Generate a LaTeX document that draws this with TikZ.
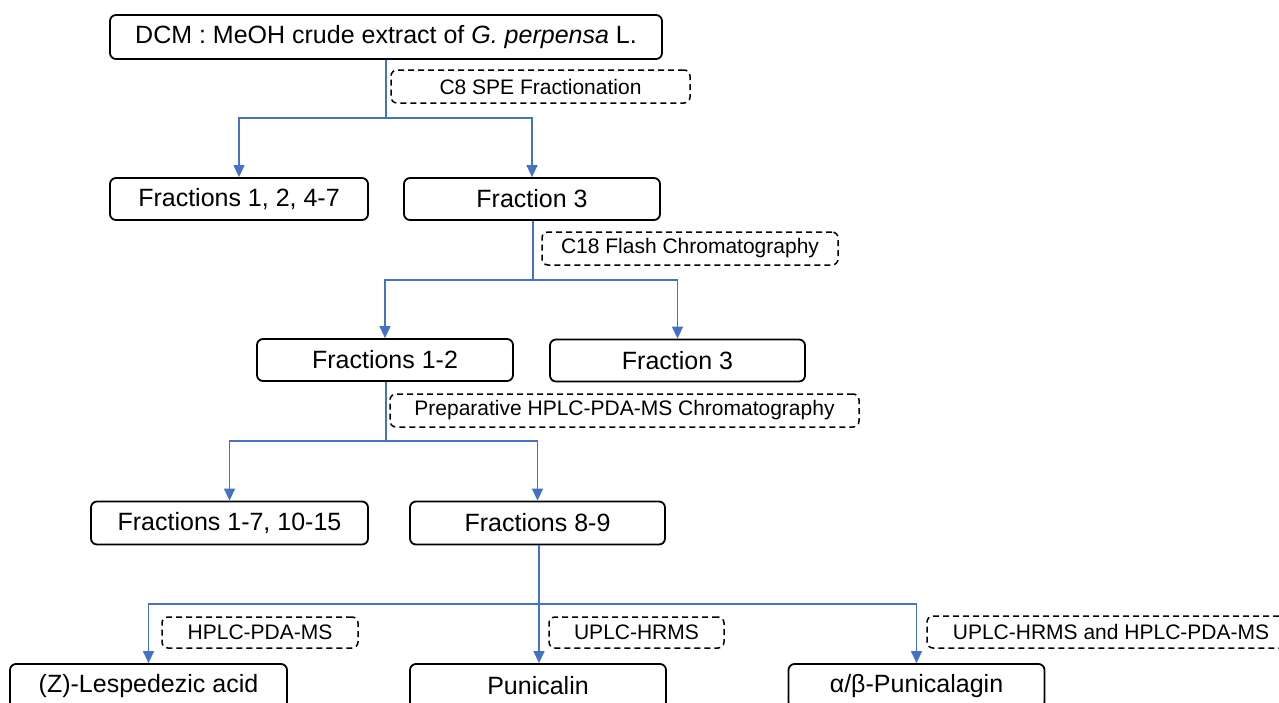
\documentclass[tikz,border=0pt]{standalone}
\usepackage{fontspec}
\setmainfont{Liberation Sans}
\usetikzlibrary{arrows.meta}
\definecolor{flowblue}{HTML}{4472C4}
\tikzset{
  stage/.style={draw=black, line width=1.8pt, rounded corners=6pt, fill=white,
    inner sep=0pt, align=center, font=\fontsize{25}{30}\selectfont},
  method/.style={draw=black, line width=1.5pt, dash pattern=on 6pt off 4pt,
    rounded corners=6pt, inner sep=0pt, align=center,
    font=\fontsize{21}{25}\selectfont},
  link/.style={draw=flowblue, line width=1.3pt},
  flow/.style={link, -{Triangle[width=11pt,length=12pt]}},
}
\begin{document}
\begin{tikzpicture}[x=1pt,y=-1pt]
\useasboundingbox (0,0) rectangle (1279,702);

% stages of the isolation scheme
\node[stage, minimum width=552pt, minimum height=44pt] (crude) at (386,37)
  {DCM : MeOH crude extract of \textit{G. perpensa} L.};
\node[stage, minimum width=258pt, minimum height=42pt] (fA) at (239,199) {Fractions 1, 2, 4-7};
\node[stage, minimum width=256pt, minimum height=42pt] (fB) at (532,199) {Fraction 3};
\node[stage, minimum width=256pt, minimum height=42pt] (fC) at (385,360) {Fractions 1-2};
\node[stage, minimum width=255pt, minimum height=42pt] (fD) at (677.5,360.5) {Fraction 3};
\node[stage, minimum width=277pt, minimum height=43pt] (fE) at (229.5,523) {Fractions 1-7, 10-15};
\node[stage, minimum width=255pt, minimum height=43pt] (fF) at (537.5,523) {Fractions 8-9};
\node[stage, minimum width=277pt, minimum height=44pt] (cA) at (148.5,686) {(Z)-Lespedezic acid};
\node[stage, minimum width=256pt, minimum height=44pt] (cB) at (538,686) {Punicalin};
\node[stage, minimum width=256pt, minimum height=44pt] (cC) at (916.5,686) {α/β-Punicalagin};

% separation methods
\node[method, minimum width=299pt, minimum height=33pt] (m1) at (540.5,86.5) {C8 SPE Fractionation};
\node[method, minimum width=296pt, minimum height=33pt] (m2) at (690,248.5) {C18 Flash Chromatography};
\node[method, minimum width=469pt, minimum height=33pt] (m3) at (624.5,410.5) {Preparative HPLC-PDA-MS Chromatography};
\node[method, minimum width=196pt, minimum height=31pt] (m4) at (260,632.5) {HPLC-PDA-MS};
\node[method, minimum width=175pt, minimum height=31pt] (m5) at (636.5,632.5) {UPLC-HRMS};
\node[method, minimum width=368pt, minimum height=32pt] (m6) at (1111,632) {UPLC-HRMS and HPLC-PDA-MS};

% branching connectors
\coordinate (j1) at (386,118);
\coordinate (j2) at (533,280);
\coordinate (j3) at (386,441);
\coordinate (j4) at (539,604);

\draw[link] (crude.south) -- (j1);
\draw[flow] (j1) -| (fA.north);
\draw[flow] (j1) -| (fB.north);

\draw[link] (fB.south -| j2) -- (j2);
\draw[flow] (j2) -| (fC.north);
\draw[flow] (j2) -| (fD.north);

\draw[link] (fC.south -| j3) -- (j3);
\draw[flow] (j3) -| (fE.north);
\draw[flow] (j3) -| (fF.north);

\draw[link] (fF.south -| j4) -- (j4);
\draw[flow] (j4) -| (cA.north);
\draw[flow] (j4) -- (cB.north -| j4);
\draw[flow] (j4) -| (cC.north);
\end{tikzpicture}
\end{document}
